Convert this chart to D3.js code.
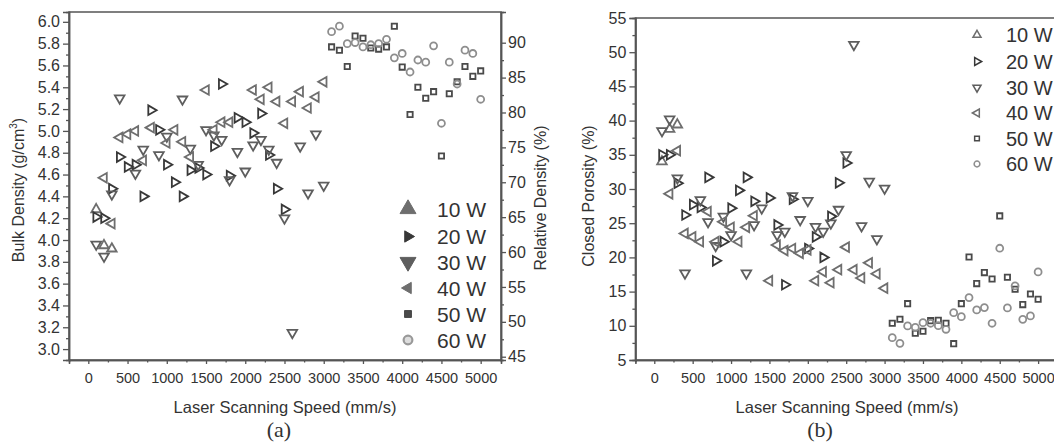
<!DOCTYPE html>
<html>
<head>
<meta charset="utf-8">
<script src="https://cdn.jsdelivr.net/npm/d3@7"></script>
<style>
  html, body { margin: 0; padding: 0; background: #fff; }
  svg { display: block; }
  text { font-family: "Liberation Sans", Arial, sans-serif; fill: #333; }
</style>
</head>
<body>
<svg id="chart" width="1054" height="447"></svg>
<script>
// ---------------- DATA ----------------
const seriesNames = ["10 W", "20 W", "30 W", "40 W", "50 W", "60 W"];
const xTicks = [0, 500, 1000, 1500, 2000, 2500, 3000, 3500, 4000, 4500, 5000];
const bulkTicks = [3.0, 3.2, 3.4, 3.6, 3.8, 4.0, 4.2, 4.4, 4.6, 4.8, 5.0, 5.2, 5.4, 5.6, 5.8, 6.0];
const relTicks = [45, 50, 55, 60, 65, 70, 75, 80, 85, 90];
const poroTicks = [5, 10, 15, 20, 25, 30, 35, 40, 45, 50, 55];

// Panel (a): bulk density (g/cm3) vs speed (mm/s)
const bulk10W = [[100, 4.28], [200, 3.95], [300, 3.92]];
const bulk20W = [[100, 4.21], [200, 4.20], [300, 4.47], [400, 4.76], [500, 4.67], [600, 4.69], [700, 4.40], [800, 5.19], [900, 5.01], [1000, 4.69], [1100, 4.53], [1200, 4.40], [1300, 4.64], [1400, 4.66], [1500, 4.60], [1600, 4.86], [1700, 5.43], [1800, 4.59], [1900, 5.12], [2000, 5.08], [2100, 4.98], [2200, 5.16], [2300, 4.78], [2400, 4.47], [2500, 4.28]];
const bulk30W = [[100, 3.96], [200, 3.85], [300, 4.42], [400, 5.30], [600, 4.61], [700, 4.83], [900, 4.78], [1000, 4.95], [1200, 5.29], [1300, 4.84], [1400, 4.69], [1500, 5.01], [1600, 4.96], [1700, 4.92], [1800, 4.55], [1900, 4.81], [2000, 4.63], [2100, 4.87], [2200, 4.92], [2300, 4.83], [2400, 4.71], [2500, 4.20], [2600, 3.15], [2700, 4.86], [2800, 4.43], [2900, 4.97], [3000, 4.50]];
const bulk40W = [[200, 4.57], [300, 4.15], [400, 4.94], [500, 4.97], [600, 5.00], [700, 4.73], [800, 5.03], [1000, 4.89], [1100, 5.01], [1200, 4.90], [1300, 4.76], [1500, 5.375], [1600, 5.01], [1700, 5.08], [1800, 5.08], [2100, 5.375], [2200, 5.29], [2300, 5.40], [2400, 5.27], [2500, 5.07], [2600, 5.27], [2700, 5.36], [2800, 5.21], [2900, 5.31], [3000, 5.45]];
const highSpeeds = [3100, 3200, 3300, 3400, 3500, 3600, 3700, 3800, 3900, 4000, 4100, 4200, 4300, 4400, 4500, 4600, 4700, 4800, 4900, 5000];
const bulk50W = [5.77, 5.74, 5.59, 5.87, 5.85, 5.76, 5.75, 5.77, 5.96, 5.585, 5.15, 5.40, 5.30, 5.36, 4.77, 5.34, 5.45, 5.59, 5.50, 5.55];
const bulk60W = [5.91, 5.96, 5.80, 5.81, 5.77, 5.79, 5.80, 5.84, 5.67, 5.71, 5.54, 5.65, 5.63, 5.78, 5.07, 5.63, 5.43, 5.74, 5.71, 5.29];

// Panel (b): closed porosity (%) vs speed (mm/s)
const poro10W = [[100, 34.0], [200, 38.75], [300, 39.4]];
const poro20W = [[100, 35.0], [200, 35.0], [300, 30.85], [400, 26.2], [500, 27.7], [600, 27.3], [700, 31.7], [800, 19.5], [900, 22.3], [1000, 27.2], [1100, 29.8], [1200, 31.7], [1300, 28.2], [1500, 28.7], [1600, 24.75], [1700, 16.0], [1800, 28.5], [2000, 21.3], [2100, 23.0], [2200, 20.0], [2300, 26.0], [2400, 30.9], [2500, 33.8]];
const poro30W = [[100, 38.5], [200, 40.2], [300, 31.6], [400, 17.7], [600, 28.4], [700, 25.2], [800, 21.7], [900, 26.0], [1000, 23.3], [1200, 17.7], [1300, 24.75], [1400, 27.2], [1600, 23.3], [1700, 23.8], [1800, 29.0], [1900, 25.5], [2000, 28.3], [2100, 24.5], [2200, 23.8], [2300, 25.0], [2400, 27.0], [2500, 35.0], [2600, 51.1], [2700, 24.6], [2800, 31.1], [2900, 22.7], [3000, 30.1]];
const poro40W = [[200, 29.3], [300, 35.6], [400, 23.5], [500, 23.0], [600, 22.3], [700, 26.7], [800, 22.3], [900, 25.2], [1000, 24.4], [1100, 22.3], [1200, 24.4], [1300, 26.1], [1500, 16.6], [1600, 21.8], [1700, 21.0], [1800, 21.3], [1900, 20.6], [2000, 21.1], [2100, 16.6], [2200, 17.9], [2300, 16.3], [2400, 18.2], [2500, 21.5], [2600, 18.2], [2700, 17.0], [2800, 19.2], [2900, 17.6], [3000, 15.5]];
const poro50W = [10.37, 10.95, 13.24, 8.9, 9.2, 10.75, 10.8, 10.37, 7.39, 13.24, 20.07, 16.17, 17.78, 16.85, 26.07, 17.1, 15.34, 13.1, 14.66, 13.88];
const poro60W = [8.26, 7.44, 9.98, 9.78, 10.46, 10.37, 10.02, 9.49, 11.92, 11.34, 14.12, 12.32, 12.66, 10.37, 21.34, 12.61, 15.83, 10.95, 11.44, 17.88];

// ---------------- STYLE ----------------
const styles = [
  { shape: d3.symbolTriangle, rot: 0,   color: "#6e6e6e", size: 40 },
  { shape: d3.symbolTriangle, rot: 90,  color: "#383838", size: 40 },
  { shape: d3.symbolTriangle, rot: 180, color: "#5e5e5e", size: 40 },
  { shape: d3.symbolTriangle, rot: 270, color: "#6e6e6e", size: 40 },
  { shape: d3.symbolSquare,   rot: 0,   color: "#4a4a4a", size: 28 },
  { shape: d3.symbolCircle,   rot: 0,   color: "#8e8e8e", size: 38 }
];

const svg = d3.select("#chart");
const axisColor = "#555";

function pairs(speeds, vals) { return speeds.map((s, i) => [s, vals[i]]); }

const dataA = [bulk10W, bulk20W, bulk30W, bulk40W, pairs(highSpeeds, bulk50W), pairs(highSpeeds, bulk60W)];
const dataB = [poro10W, poro20W, poro30W, poro40W, pairs(highSpeeds, poro50W), pairs(highSpeeds, poro60W)];

function minorVals(major) {
  const out = [];
  for (let i = 0; i < major.length - 1; i++) out.push((major[i] + major[i + 1]) / 2);
  return out;
}

function styleAxis(g) {
  g.select(".domain").attr("stroke", axisColor).attr("stroke-width", 1.5);
  g.selectAll(".tick line").attr("stroke", axisColor).attr("stroke-width", 1.3);
  g.selectAll(".tick text").attr("fill", "#333");
}

function drawPoints(g, data, x, y) {
  data.forEach((ser, si) => {
    const st = styles[si];
    const sym = d3.symbol().type(st.shape).size(st.size);
    g.append("g").selectAll("path").data(ser).join("path")
      .attr("d", sym)
      .attr("transform", d => `translate(${x(d[0])},${y(d[1])}) rotate(${st.rot})`)
      .attr("fill", "none")
      .attr("stroke", st.color)
      .attr("stroke-width", 1.8);
  });
}

// ---------------- PANEL (a) ----------------
{
  const L = 69, R = 501, T = 12, B = 360;
  const x = d3.scaleLinear().domain([-246, 5259]).range([L, R]);
  const y = d3.scaleLinear().domain([2.90, 6.09]).range([B, T]);
  const yR = d3.scaleLinear().domain([44.53, 94.40]).range([B, T]);

  svg.append("rect").attr("x", L).attr("y", T).attr("width", R - L).attr("height", B - T)
    .attr("fill", "none").attr("stroke", axisColor).attr("stroke-width", 1.5);

  const gx = svg.append("g").attr("transform", `translate(0,${B})`)
    .call(d3.axisBottom(x).tickValues(xTicks).tickSize(4).tickPadding(9).tickFormat(d3.format("d")));
  gx.selectAll("text").attr("font-size", 14.5);
  styleAxis(gx);
  const gxm = svg.append("g").attr("transform", `translate(0,${B})`)
    .call(d3.axisBottom(x).tickValues(minorVals(xTicks)).tickSize(2.5).tickFormat(""));
  styleAxis(gxm);

  const gy = svg.append("g").attr("transform", `translate(${L},0)`)
    .call(d3.axisLeft(y).tickValues(bulkTicks).tickSize(6).tickPadding(3).tickFormat(d3.format(".1f")));
  gy.selectAll("text").attr("font-size", 16);
  styleAxis(gy);
  const gym = svg.append("g").attr("transform", `translate(${L},0)`)
    .call(d3.axisLeft(y).tickValues(minorVals(bulkTicks)).tickSize(3).tickFormat(""));
  styleAxis(gym);

  const gr = svg.append("g").attr("transform", `translate(${R},0)`)
    .call(d3.axisRight(yR).tickValues(relTicks).tickSize(5).tickPadding(2).tickFormat(d3.format("d")));
  gr.selectAll("text").attr("font-size", 16);
  styleAxis(gr);
  const grm = svg.append("g").attr("transform", `translate(${R},0)`)
    .call(d3.axisRight(yR).tickValues(minorVals(relTicks)).tickSize(3).tickFormat(""));
  styleAxis(grm);

  drawPoints(svg.append("g"), dataA, x, y);

  // legend (filled markers)
  const legY = [209, 236.5, 262, 288, 314, 340];
  const legSize = [110, 55, 110, 55, 48, 60];
  const lg = svg.append("g");
  seriesNames.forEach((name, i) => {
    const st = styles[i];
    const p = lg.append("path")
      .attr("d", d3.symbol().type(st.shape).size(legSize[i]))
      .attr("transform", `translate(408,${legY[i]}) rotate(${st.rot})`);
    if (i === 5) p.attr("fill", "#ddd").attr("stroke", "#999").attr("stroke-width", 2.2);
    else p.attr("fill", st.color).attr("stroke", st.color).attr("stroke-width", 1);
    lg.append("text").attr("x", 437).attr("y", legY[i] + 7.5)
      .attr("font-size", 21).attr("fill", "#222").text(name);
  });

  svg.append("text").attr("transform", "translate(24,190) rotate(-90)")
    .attr("text-anchor", "middle").attr("font-size", 16)
    .call(t => {
      t.append("tspan").text("Bulk Density (g/cm");
      t.append("tspan").attr("font-size", 10).attr("dy", -7).text("3");
      t.append("tspan").attr("dy", 7).text(")");
    });
  svg.append("text").attr("transform", "translate(546,198) rotate(-90)")
    .attr("text-anchor", "middle").attr("font-size", 16).text("Relative Density (%)");
  svg.append("text").attr("x", 285).attr("y", 412.5)
    .attr("text-anchor", "middle").attr("font-size", 16.5).text("Laser Scanning Speed (mm/s)");
  svg.append("text").attr("x", 279).attr("y", 437)
    .attr("text-anchor", "middle").attr("font-size", 22)
    .style("font-family", "'Liberation Serif', 'Times New Roman', serif").attr("fill", "#111").text("(a)");
}

// ---------------- PANEL (b) ----------------
{
  const L = 635.4, R = 1058, T = 18, B = 360;
  const x = d3.scaleLinear().domain([-246, 5259]).range([L, R]);
  const y = d3.scaleLinear().domain([5, 55]).range([B, T]);

  svg.append("rect").attr("x", L).attr("y", T).attr("width", R - L).attr("height", B - T)
    .attr("fill", "none").attr("stroke", axisColor).attr("stroke-width", 1.5);

  const gx = svg.append("g").attr("transform", `translate(0,${B})`)
    .call(d3.axisBottom(x).tickValues(xTicks).tickSize(4).tickPadding(9).tickFormat(d3.format("d")));
  gx.selectAll("text").attr("font-size", 14.5);
  styleAxis(gx);
  const gxm = svg.append("g").attr("transform", `translate(0,${B})`)
    .call(d3.axisBottom(x).tickValues(minorVals(xTicks)).tickSize(2.5).tickFormat(""));
  styleAxis(gxm);

  const gy = svg.append("g").attr("transform", `translate(${L},0)`)
    .call(d3.axisLeft(y).tickValues(poroTicks).tickSize(6).tickPadding(3).tickFormat(d3.format("d")));
  gy.selectAll("text").attr("font-size", 16);
  styleAxis(gy);
  const gym = svg.append("g").attr("transform", `translate(${L},0)`)
    .call(d3.axisLeft(y).tickValues(minorVals(poroTicks)).tickSize(3).tickFormat(""));
  styleAxis(gym);

  drawPoints(svg.append("g"), dataB, x, y);

  // legend (hollow markers)
  const legY = [35, 61.5, 87.5, 113, 138.5, 164];
  const legSize = [28, 28, 28, 28, 22, 26];
  const lg = svg.append("g");
  seriesNames.forEach((name, i) => {
    const st = styles[i];
    lg.append("path")
      .attr("d", d3.symbol().type(st.shape).size(legSize[i]))
      .attr("transform", `translate(977,${legY[i]}) rotate(${st.rot})`)
      .attr("fill", "none").attr("stroke", st.color).attr("stroke-width", 1.5);
    lg.append("text").attr("x", 1006).attr("y", legY[i] + 7)
      .attr("font-size", 20).attr("fill", "#222").text(name);
  });

  svg.append("text").attr("transform", "translate(594,196) rotate(-90)")
    .attr("text-anchor", "middle").attr("font-size", 16).text("Closed Porosity (%)");
  svg.append("text").attr("x", 847).attr("y", 412.5)
    .attr("text-anchor", "middle").attr("font-size", 16.5).text("Laser Scanning Speed (mm/s)");
  svg.append("text").attr("x", 820).attr("y", 437)
    .attr("text-anchor", "middle").attr("font-size", 22)
    .style("font-family", "'Liberation Serif', 'Times New Roman', serif").attr("fill", "#111").text("(b)");
}
</script>
</body>
</html>
